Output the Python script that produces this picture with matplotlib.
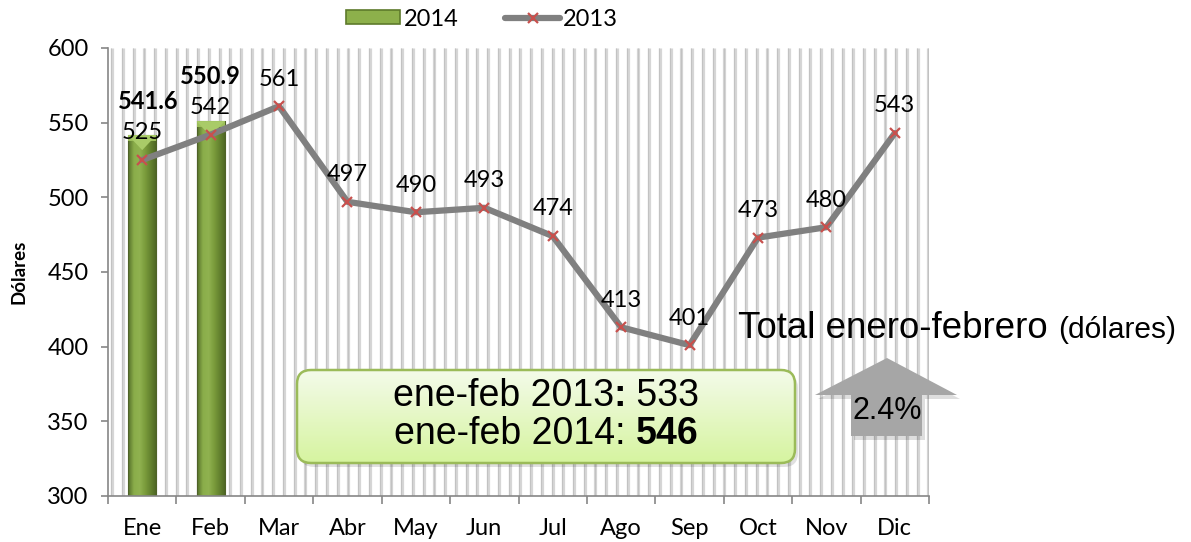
import numpy as np
import matplotlib
matplotlib.use("Agg")
import matplotlib.pyplot as plt
from matplotlib.patches import FancyBboxPatch, Polygon, Rectangle
from matplotlib.lines import Line2D
from matplotlib.colors import LinearSegmentedColormap

# ---- data ----
months = ["Ene", "Feb", "Mar", "Abr", "May", "Jun", "Jul", "Ago", "Sep", "Oct", "Nov", "Dic"]
values_2013 = [525, 542, 561, 497, 490, 493, 474, 413, 401, 473, 480, 543]
values_2014 = [541.6, 550.9]
labels_2014 = ["541.6", "550.9"]
yticks = [300, 350, 400, 450, 500, 550, 600]
legend_labels = ["2014", "2013"]
box_line1 = [("ene-feb 2013", "normal"), (":", "bold"), (" 533", "normal")]
box_line2 = [("ene-feb 2014: ", "normal"), ("546", "bold")]
total_title = "Total enero-febrero"
total_unit = "(dólares)"
growth_label = "2.4%"
ylabel = "Dólares"

plt.rcParams["font.family"] = ["Lato", "DejaVu Sans"]

W, H = 1191, 542
fig = plt.figure(figsize=(W / 100, H / 100), dpi=100)
ax = fig.add_axes([108 / W, 1 - 496 / H, (929 - 108) / W, (496 - 48) / H])

x = np.arange(len(months))
ymin, ymax = yticks[0], yticks[-1]

# background stripes
stripe_pos = np.arange(-0.5 + 0.06, 11.5, 0.157)
ax.vlines(stripe_pos, ymin, ymax, colors="#D6D6D6", lw=2.3, zorder=0)
ax.vlines(stripe_pos - 0.012, ymin, ymax, colors="#C2C2C2", lw=0.8, zorder=0)

# 2014 bars with gradient
bw = 0.41
cmap = LinearSegmentedColormap.from_list(
    "g", ["#55702A", "#8AAD4A", "#90B250", "#7A9B3B", "#62802E", "#4C6323"])
grad = np.linspace(0, 1, 64).reshape(1, -1)
for i, v in enumerate(values_2014):
    x0, x1 = x[i] - bw / 2, x[i] + bw / 2
    im = ax.imshow(grad, cmap=cmap, extent=[x0, x1, ymin, v], aspect="auto", zorder=2)
    rect = Rectangle((x0, ymin), bw, v - ymin, facecolor="none", edgecolor="#4F6228", lw=0.8, zorder=2)
    ax.add_patch(rect)
    im.set_clip_path(rect)
    band = Rectangle((x0, v - 4), bw, 4, facecolor="#9CBF5A", edgecolor="none", zorder=2.4)
    ax.add_patch(band)
    tri = Polygon([[x0, v], [x1, v], [x[i], v - 10]], closed=True,
                  facecolor="#A9CB68", edgecolor="none", zorder=2.5)
    ax.add_patch(tri)

# 2013 line
ax.plot(x, values_2013, color="#808080", lw=4.5, zorder=4, solid_capstyle="round")
ax.plot(x, values_2013, ls="none", marker="x", ms=6.5, mew=1.6, color="#C8504D", zorder=5)

FS = 17
label_kw = dict(fontsize=FS, ha="center", va="bottom", textcoords="offset points", zorder=6)
for xi, v in zip(x, values_2013):
    ax.annotate(str(v), (xi, v), xytext=(0, 12), **label_kw)
offsets_2014 = [(4, 16), (0, 24)]
for xi, v, lab, off in zip(x, values_2014, labels_2014, offsets_2014):
    ax.annotate(lab, (xi, v), xytext=off, fontweight="bold", **label_kw)

# axes styling
ax.set_xlim(-0.5, 11.5)
ax.set_ylim(ymin, ymax)
ax.set_yticks(yticks)
ax.set_yticklabels([str(t) for t in yticks], fontsize=FS)
ax.set_xticks(x)
ax.set_xticklabels(months, fontsize=FS)
ax.set_xticks(np.arange(-0.5, 12, 1), minor=True)
ax.tick_params(axis="x", which="major", length=0, pad=16)
ax.tick_params(axis="x", which="minor", length=6, color="#868686", width=1.2)
ax.tick_params(axis="y", which="major", length=5, color="#868686", width=1.2, pad=9)
for s in ["top", "right"]:
    ax.spines[s].set_visible(False)
for s in ["left", "bottom"]:
    ax.spines[s].set_color("#868686")
    ax.spines[s].set_linewidth(1.2)
ax.set_ylabel(ylabel, fontsize=13.5, fontweight="bold")
ax.yaxis.set_label_coords(-0.098, 0.5)

# legend
handles = [
    Rectangle((0, 0), 1, 1, facecolor="#8DB04B", edgecolor="#5E7A2B", lw=1.2),
    Line2D([], [], color="#808080", lw=4.5, marker="x", ms=6.5, mew=1.6,
           markeredgecolor="#C8504D", solid_capstyle="round"),
]
fig.legend(handles, legend_labels, loc="center", bbox_to_anchor=(482 / W, 1 - 19 / H),
           ncol=2, frameon=False, fontsize=FS, handlelength=2.3, handletextpad=0.15,
           columnspacing=2.0, handleheight=0.5)

# summary box (pixel-unit axes so corners are round)
bx0, by0, bx1, by1 = 297, 370, 795, 463
bwid, bhei = bx1 - bx0, by1 - by0
bax = fig.add_axes([bx0 / W, 1 - by1 / H, bwid / W, bhei / H], zorder=5)
bax.set_xlim(0, bwid)
bax.set_ylim(0, bhei)
bax.axis("off")
shadow = FancyBboxPatch((3, -4), bwid, bhei, boxstyle="round,pad=0,rounding_size=14",
                        facecolor="#000000", alpha=0.12, edgecolor="none", clip_on=False)
bax.add_patch(shadow)
bclip = FancyBboxPatch((0, 0), bwid, bhei, boxstyle="round,pad=0,rounding_size=14",
                       facecolor="none", edgecolor="#9BBB59", lw=1.8, clip_on=False, zorder=3)
bax.add_patch(bclip)
bim = bax.imshow(np.linspace(1, 0, 64).reshape(-1, 1),
                 cmap=LinearSegmentedColormap.from_list("b", ["#D6F4A0", "#F4FBEA"]),
                 extent=[0, bwid, 0, bhei], aspect="auto", zorder=2)
bim.set_clip_path(bclip)
bax.set_xlim(0, bwid)
bax.set_ylim(0, bhei)

renderer = fig.canvas.get_renderer()


def piece_width(s, weight, size, family):
    t1 = fig.text(0, 0, "|" + s + "|", fontsize=size, fontweight=weight, family=family)
    t2 = fig.text(0, 0, "||", fontsize=size, fontweight=weight, family=family)
    w = t1.get_window_extent(renderer).width - t2.get_window_extent(renderer).width
    t1.remove()
    t2.remove()
    return w


def rich_line(xc_px, yc_px, pieces, size, family):
    widths = [piece_width(s, wt, size, family) for s, wt in pieces]
    xpos = xc_px - sum(widths) / 2
    for (s, wt), w in zip(pieces, widths):
        fig.text(xpos / W, 1 - yc_px / H, s, fontsize=size, fontweight=wt, family=family,
                 ha="left", va="center", zorder=10)
        xpos += w


rich_line((bx0 + bx1) / 2, 396, box_line1, 27, "Liberation Sans")
rich_line((bx0 + bx1) / 2, 434, box_line2, 27, "Liberation Sans")

# total title
fig.text(738 / W, 1 - 328 / H, total_title, fontsize=26.4, family="Liberation Sans",
         ha="left", va="center", zorder=10)
fig.text(1058 / W, 1 - 330 / H, total_unit, fontsize=21.5, family="Liberation Sans",
         ha="left", va="center", zorder=10)

# arrow
arrow_px = [(887, 358), (957, 395), (922, 395), (922, 436), (851, 436), (851, 395), (815, 395)]
arr_sh = Polygon([((px + 3) / W, 1 - (py + 4) / H) for px, py in arrow_px], closed=True,
                 transform=fig.transFigure, facecolor="#000000", alpha=0.13, edgecolor="none", zorder=8)
fig.add_artist(arr_sh)
arr = Polygon([(px / W, 1 - py / H) for px, py in arrow_px], closed=True,
              transform=fig.transFigure, facecolor="#A6A6A6", edgecolor="none", zorder=9)
fig.add_artist(arr)
fig.text(887 / W, 1 - 411 / H, growth_label, fontsize=22, family="Liberation Sans",
         ha="center", va="center", zorder=10)

fig.savefig("out.png", dpi=100)
